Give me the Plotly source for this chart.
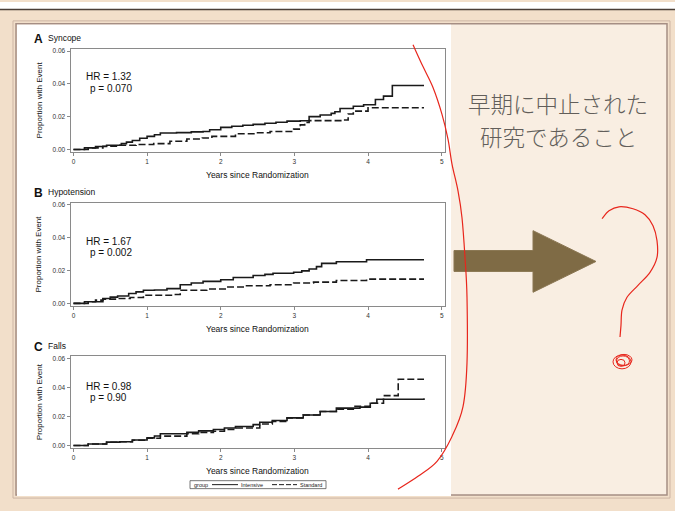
import plotly.graph_objects as go

W, H = 675, 511

# ---------------- data ----------------
years_ticks = [0, 1, 2, 3, 4, 5]
prop_ticks = [0.0, 0.02, 0.04, 0.06]
prop_ticktext = ["0.00", "0.02", "0.04", "0.06"]

syncope_int_x = [0, 0.15, 0.3, 0.45, 0.65, 0.72, 0.8, 0.9, 1.0, 1.1, 1.18, 1.4, 1.6, 1.76, 1.85, 2.0, 2.15, 2.3, 2.44, 2.6, 2.75, 2.9, 3.08, 3.2, 3.35, 3.5, 3.55, 3.62, 3.8, 3.94, 4.1, 4.21, 4.33, 4.76]
syncope_int_y = [0, 0.001, 0.0018, 0.0026, 0.0036, 0.0045, 0.0055, 0.0068, 0.008, 0.009, 0.010, 0.0103, 0.0107, 0.011, 0.012, 0.0135, 0.0142, 0.0148, 0.0153, 0.016, 0.0166, 0.0173, 0.0175, 0.020, 0.021, 0.022, 0.023, 0.025, 0.0263, 0.0273, 0.0305, 0.0325, 0.039, 0.039]
syncope_std_x = [0, 0.2, 0.4, 0.63, 0.85, 1.09, 1.31, 1.54, 1.75, 1.88, 2.2, 2.45, 2.67, 2.99, 3.08, 3.14, 3.2, 3.67, 3.73, 3.8, 4.0, 4.76]
syncope_std_y = [0, 0.001, 0.002, 0.0026, 0.003, 0.0036, 0.005, 0.0064, 0.007, 0.008, 0.0096, 0.0102, 0.011, 0.0124, 0.015, 0.0165, 0.0176, 0.018, 0.0216, 0.0234, 0.0254, 0.0254]

hypo_int_x = [0, 0.2, 0.4, 0.5, 0.6, 0.75, 0.85, 0.95, 1.1, 1.27, 1.45, 1.6, 1.76, 2.0, 2.17, 2.44, 2.6, 2.71, 2.99, 3.1, 3.2, 3.3, 3.37, 3.57, 3.98, 4.76]
hypo_int_y = [0, 0.001, 0.003, 0.0038, 0.0045, 0.006, 0.007, 0.008, 0.0082, 0.009, 0.0114, 0.0124, 0.0134, 0.0144, 0.0158, 0.017, 0.0177, 0.0184, 0.019, 0.0198, 0.021, 0.0224, 0.0244, 0.0254, 0.0266, 0.0266]
hypo_std_x = [0, 0.15, 0.3, 0.4, 0.6, 0.77, 0.95, 1.36, 1.45, 1.81, 2.08, 2.35, 2.67, 2.99, 3.26, 3.57, 3.98, 4.76]
hypo_std_y = [0, 0.001, 0.002, 0.0026, 0.003, 0.0036, 0.005, 0.0054, 0.008, 0.0088, 0.010, 0.0108, 0.0114, 0.0124, 0.013, 0.014, 0.0148, 0.0148]

falls_int_x = [0, 0.2, 0.45, 0.63, 0.8, 1.0, 1.1, 1.18, 1.54, 1.7, 1.9, 2.05, 2.2, 2.44, 2.53, 2.7, 2.9, 3.12, 3.35, 3.57, 3.89, 4.03, 4.12, 4.76]
falls_int_y = [0, 0.001, 0.0023, 0.0025, 0.0038, 0.0052, 0.0065, 0.008, 0.009, 0.01, 0.011, 0.012, 0.013, 0.0143, 0.016, 0.0172, 0.019, 0.021, 0.0234, 0.0257, 0.0264, 0.029, 0.0318, 0.0325]
falls_std_x = [0, 0.2, 0.45, 0.63, 0.8, 1.0, 1.18, 1.54, 1.7, 1.9, 2.05, 2.2, 2.53, 2.7, 2.9, 3.12, 3.35, 3.57, 3.8, 4.03, 4.21, 4.41, 4.76]
falls_std_y = [0, 0.001, 0.0022, 0.0025, 0.0036, 0.005, 0.0064, 0.008, 0.009, 0.0098, 0.011, 0.012, 0.0148, 0.0165, 0.0189, 0.021, 0.0234, 0.025, 0.027, 0.029, 0.0343, 0.0455, 0.0455]

panels = [
    ("A", "Syncope", "HR = 1.32", "p = 0.070", syncope_int_x, syncope_int_y, syncope_std_x, syncope_std_y),
    ("B", "Hypotension", "HR = 1.67", "p = 0.002", hypo_int_x, hypo_int_y, hypo_std_x, hypo_std_y),
    ("C", "Falls", "HR = 0.98", "p = 0.90", falls_int_x, falls_int_y, falls_std_x, falls_std_y),
]
group_names = ["Intensive", "Standard"]

# ---------------- geometry (pixel) ----------------
def px(x):
    return x / W

def py(y):
    return 1 - y / H

frame_x = (70.5, 445)
frames_y = [(47, 151), (202, 306), (356.3, 448.7)]
yranges = [(-0.0016, 0.0614), (-0.0017, 0.0613), (-0.0018, 0.0614)]
title_y = [37, 192, 347]
hr_y = [(75, 87), (241, 252), (387, 398)]
xtitle_y = [174, 329, 472]

INK = "#1a1a1a"
FRAME = "#8a8a8a"
FONT = "Arial, Liberation Sans, sans-serif"

fig = go.Figure()
layout = dict(
    width=W, height=H, autosize=False,
    margin=dict(l=0, r=0, t=0, b=0),
    paper_bgcolor="#f2dfca",
    plot_bgcolor="rgba(0,0,0,0)",
    showlegend=False,
    font=dict(family=FONT, color="#222"),
)

annotations = []
shapes = []

def rect(x0, y0, x1, y1, fill=None, line=None, lw=0, layer="below"):
    d = dict(type="rect", xref="paper", yref="paper", x0=px(x0), x1=px(x1),
             y0=py(y1), y1=py(y0), layer=layer, line=dict(width=lw, color=line or "rgba(0,0,0,0)"))
    if fill:
        d["fillcolor"] = fill
    shapes.append(d)

rect(0, 0, 675, 7, fill="#ffffff")
shapes.append(dict(type="line", xref="paper", yref="paper", x0=0, x1=1, y0=py(7.5), y1=py(7.5),
                   line=dict(color="#4a3e36", width=1.5), layer="below"))
rect(17, 22, 667, 496, fill="#f9eee2")
rect(13, 19, 670, 499, line="#cdb5a4", lw=1)
rect(16, 22, 667, 496, line="#a58e84", lw=1.5)
rect(17, 23, 451, 497, fill="#ffffff")

for i, (letter, name, hr, pv, ix, iy, sx, sy) in enumerate(panels):
    n = "" if i == 0 else str(i + 1)
    xa, ya = "x" + n, "y" + n
    fig.add_trace(go.Scatter(x=ix, y=iy, mode="lines", line=dict(shape="hv", color=INK, width=1.6),
                             name=group_names[0], xaxis=xa, yaxis=ya))
    fig.add_trace(go.Scatter(x=sx, y=sy, mode="lines", line=dict(shape="hv", color=INK, width=1.6, dash="7px,3px"),
                             name=group_names[1], xaxis=xa, yaxis=ya))
    fy0, fy1 = frames_y[i]
    layout["xaxis" + n] = dict(
        domain=[px(frame_x[0]), px(frame_x[1])], anchor=ya, range=[-0.04, 5.045],
        tickvals=years_ticks, ticks="outside", ticklen=3, tickwidth=1, tickcolor=FRAME,
        showline=True, mirror=True, linecolor=FRAME, linewidth=1,
        showgrid=False, zeroline=False, tickfont=dict(size=6.5, color="#333"), fixedrange=True)
    layout["yaxis" + n] = dict(
        domain=[py(fy1), py(fy0)], anchor=xa, range=list(yranges[i]),
        tickvals=prop_ticks, ticktext=prop_ticktext, ticks="outside", ticklen=3, tickwidth=1, tickcolor=FRAME,
        showline=True, mirror=True, linecolor=FRAME, linewidth=1,
        showgrid=False, zeroline=False, tickfont=dict(size=6.5, color="#333"), fixedrange=True)
    annotations.append(dict(xref="paper", yref="paper", x=px(32), y=py(title_y[i]), text="<b>" + letter + "</b>",
                            showarrow=False, xanchor="left", yanchor="middle", font=dict(size=12, color="#111")))
    annotations.append(dict(xref="paper", yref="paper", x=px(46), y=py(title_y[i] - 1), text=name,
                            showarrow=False, xanchor="left", yanchor="middle", font=dict(size=8.5, color="#111")))
    annotations.append(dict(xref="paper", yref="paper", x=px(83.5), y=py(hr_y[i][0]), text=hr,
                            showarrow=False, xanchor="left", yanchor="middle", font=dict(size=10, color="#111")))
    annotations.append(dict(xref="paper", yref="paper", x=px(87.5), y=py(hr_y[i][1]), text=pv,
                            showarrow=False, xanchor="left", yanchor="middle", font=dict(size=10, color="#111")))
    annotations.append(dict(xref="paper", yref="paper", x=px(257.5), y=py(xtitle_y[i]), text="Years since Randomization",
                            showarrow=False, xanchor="center", yanchor="middle", font=dict(size=8.5, color="#111")))
    annotations.append(dict(xref="paper", yref="paper", x=px(39), y=py((fy0 + fy1) / 2), text="Proportion with Event",
                            showarrow=False, textangle=-90, xanchor="center", yanchor="middle", font=dict(size=8, color="#111")))

# legend box (drawn)
rect(190, 481.5, 326, 489.5, line="#555555", lw=0.8, layer="above")
annotations.append(dict(xref="paper", yref="paper", x=px(192), y=py(485.5), text="group", showarrow=False,
                        xanchor="left", yanchor="middle", font=dict(size=5.5, color="#222")))
shapes.append(dict(type="line", xref="paper", yref="paper", x0=px(212), x1=px(238), y0=py(485.5), y1=py(485.5),
                   line=dict(color=INK, width=1)))
annotations.append(dict(xref="paper", yref="paper", x=px(239), y=py(485.5), text=group_names[0], showarrow=False,
                        xanchor="left", yanchor="middle", font=dict(size=5.5, color="#222")))
shapes.append(dict(type="line", xref="paper", yref="paper", x0=px(272), x1=px(297), y0=py(485.5), y1=py(485.5),
                   line=dict(color=INK, width=1, dash="5px,2px")))
annotations.append(dict(xref="paper", yref="paper", x=px(298), y=py(485.5), text=group_names[1], showarrow=False,
                        xanchor="left", yanchor="middle", font=dict(size=5.5, color="#222")))

# arrow
arrow_pts = [(454, 250), (533, 250), (533, 230), (596, 261), (533, 292), (533, 271), (454, 271)]
path = "M " + " L ".join(f"{px(x):.5f},{py(y):.5f}" for x, y in arrow_pts) + " Z"
shapes.append(dict(type="path", xref="paper", yref="paper", path=path, fillcolor="#7f6b45",
                   line=dict(color="#8a7652", width=1)))

# Japanese text
for txt, yy in [("早期に中止された", 102), ("研究であること", 135)]:
    annotations.append(dict(xref="paper", yref="paper", x=px(558), y=py(yy), text=txt, showarrow=False,
                            xanchor="center", yanchor="middle",
                            font=dict(size=22.5, color="#625e5a", family="Noto Sans CJK JP", weight=300)))

def smooth_path(pts):
    P = [(px(x), py(y)) for x, y in pts]
    s = f"M {P[0][0]:.5f},{P[0][1]:.5f}"
    for k in range(len(P) - 1):
        p0 = P[k - 1] if k > 0 else P[k]
        p1, p2 = P[k], P[k + 1]
        p3 = P[k + 2] if k + 2 < len(P) else P[k + 1]
        c1 = (p1[0] + (p2[0] - p0[0]) / 6, p1[1] + (p2[1] - p0[1]) / 6)
        c2 = (p2[0] - (p3[0] - p1[0]) / 6, p2[1] - (p3[1] - p1[1]) / 6)
        s += f" C {c1[0]:.5f},{c1[1]:.5f} {c2[0]:.5f},{c2[1]:.5f} {p2[0]:.5f},{p2[1]:.5f}"
    return s

RED = "#e8261c"
bracket = [(413, 43), (423, 65), (433, 86), (442, 113), (448, 138), (452, 163), (458, 190), (462, 217),
           (465, 257), (467, 297), (467, 363), (463, 407), (452, 437), (437, 462), (418, 477), (398, 490)]
shapes.append(dict(type="path", xref="paper", yref="paper", path=smooth_path(bracket),
                   line=dict(color=RED, width=1.2)))
qmark = [(602, 218), (609, 210), (619, 206), (633, 208), (645, 214), (653, 225), (657, 240), (657, 257),
         (650, 272), (638, 285), (627, 297), (622, 310), (621, 325), (620, 337)]
shapes.append(dict(type="path", xref="paper", yref="paper", path=smooth_path(qmark),
                   line=dict(color=RED, width=1.2)))
for (cx, cy, rx, ry) in [(622, 362, 9, 7), (623, 361, 6.5, 5), (621, 363, 4, 3.5), (624, 360, 8, 5.5)]:
    shapes.append(dict(type="circle", xref="paper", yref="paper", x0=px(cx - rx), x1=px(cx + rx),
                       y0=py(cy + ry), y1=py(cy - ry), line=dict(color=RED, width=1)))

layout["shapes"] = shapes
layout["annotations"] = annotations
fig.update_layout(**layout)
fig.write_html("out.html", config={"displayModeBar": False},
               post_script="document.body.style.margin='0px';")
